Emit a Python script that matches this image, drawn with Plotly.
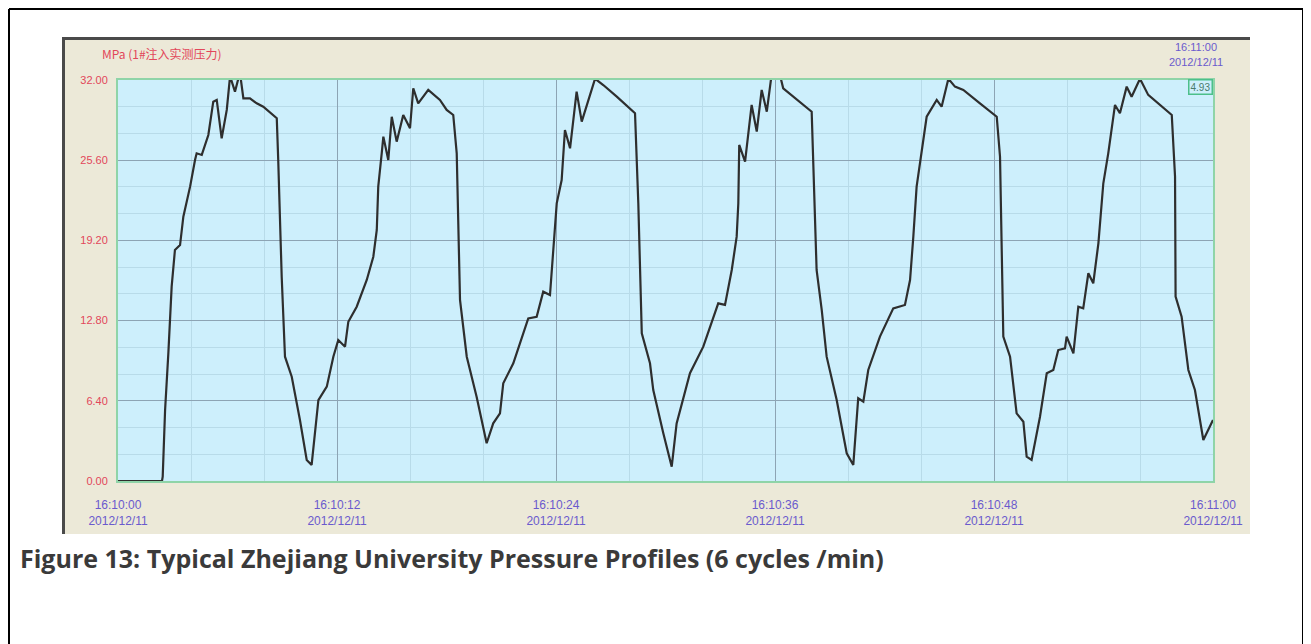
import plotly.graph_objects as go

# ---- data (seconds after 16:10:00, pressure in MPa) ----
time_s = [
    0.00, 2.41, 2.45, 2.58, 2.76, 2.94, 3.12, 3.40, 3.58, 3.95, 4.22, 4.31, 4.59, 4.95,
    5.22, 5.41, 5.68, 5.96, 6.14, 6.41, 6.68, 6.87, 7.23, 7.60, 7.96, 8.70, 8.78, 8.88,
    8.97, 9.15, 9.52, 9.97, 10.34, 10.61, 10.98, 11.44, 11.80, 12.07, 12.44, 12.62,
    13.08, 13.63, 13.99, 14.18, 14.26, 14.45, 14.54, 14.81, 15.00, 15.27, 15.63, 16.00,
    16.18, 16.45, 17.00, 17.64, 18.01, 18.37, 18.56, 18.74, 19.11, 19.65, 20.20, 20.56,
    20.93, 21.11, 21.66, 22.48, 22.94, 23.30, 23.67, 24.04, 24.31, 24.49, 24.77, 25.13,
    25.41, 26.14, 26.59, 27.33, 28.33, 28.51, 28.70, 29.15, 29.33, 29.88, 30.34, 30.61,
    31.34, 32.07, 32.53, 32.89, 33.26, 33.63, 33.90, 33.99, 34.04, 34.36, 34.72, 35.00,
    35.27, 35.55, 35.82, 36.05, 36.27, 36.45, 38.01, 38.10, 38.28, 38.56, 38.83, 39.38,
    39.93, 40.29, 40.56, 40.84, 41.11, 41.75, 42.48, 43.12, 43.40, 43.58, 43.76, 44.31,
    44.86, 45.13, 45.50, 45.86, 46.32, 47.23, 48.15, 48.33, 48.51, 48.88, 49.24, 49.61,
    49.79, 50.06, 50.52, 50.89, 51.25, 51.52, 51.89, 51.98, 52.35, 52.62, 52.89, 53.17,
    53.44, 53.72, 53.99, 54.26, 54.63, 54.90, 55.27, 55.54, 56.00, 56.45, 57.74, 57.92,
    57.95, 58.28, 58.65, 59.01, 59.47, 60.00,
]
pressure_mpa = [
    0.00, 0.00, 0.34, 5.67, 10.22, 15.51, 18.44, 18.83, 21.09, 23.49, 25.62, 26.15, 26.02, 27.61,
    30.27, 30.41, 27.35, 29.61, 32.30, 31.07, 32.60, 30.54, 30.54, 30.14, 29.87, 28.95, 25.62, 20.30,
    16.30, 9.92, 8.32, 4.87, 1.68, 1.28, 6.46, 7.53, 9.92, 11.25, 10.72, 12.71,
    13.91, 16.04, 17.90, 20.03, 23.49, 26.15, 27.48, 25.62, 29.07, 27.08, 29.21, 28.15,
    31.34, 30.14, 31.21, 30.41, 29.61, 29.21, 26.15, 14.45, 9.92, 6.73, 3.01, 4.60,
    5.40, 7.80, 9.39, 12.98, 13.11, 15.11, 14.84, 22.16, 24.02, 28.01, 26.55, 31.07,
    28.68, 32.10, 31.60, 30.67, 29.35, 22.16, 11.79, 9.39, 7.26, 3.81, 1.14, 4.60,
    8.60, 10.72, 12.59, 14.18, 14.05, 16.84, 19.50, 22.16, 26.82, 25.48, 30.01, 27.88,
    31.21, 29.47, 32.50, 33.50, 32.40, 31.34, 29.47, 24.82, 16.84, 13.65, 9.92, 6.46,
    2.21, 1.28, 6.60, 6.33, 8.86, 11.52, 13.78, 14.05, 16.04, 19.50, 23.49, 29.07,
    30.41, 29.87, 32.10, 31.47, 31.21, 30.14, 29.07, 25.88, 11.52, 9.92, 5.40, 4.73,
    1.94, 1.68, 5.13, 8.60, 8.86, 10.45, 10.59, 11.52, 10.19, 13.91, 13.78, 16.58,
    15.78, 18.97, 23.76, 26.15, 30.01, 29.35, 31.47, 30.67, 32.10, 30.81, 29.21, 24.29,
    14.71, 13.11, 8.86, 7.26, 3.27, 4.87,
]

y_tick_vals = [0.0, 6.4, 12.8, 19.2, 25.6, 32.0]
y_tick_text = ["0.00", "6.40", "12.80", "19.20", "25.60", "32.00"]
x_tick_vals = [0, 12, 24, 36, 48, 60]
x_tick_times = ["16:10:00", "16:10:12", "16:10:24", "16:10:36", "16:10:48", "16:11:00"]
x_tick_date = "2012/12/11"
unit_label = "MPa (1#注入实测压力)"
cursor_time = "16:11:00"
cursor_value = "4.93"
caption = "Figure 13: Typical Zhejiang University Pressure Profiles (6 cycles /min)"

# ---- layout geometry (page pixels; the page body adds an 8px offset) ----
OFF = 8
W, H = 1311 - OFF, 644 - OFF
L, R, T, B = 118, 1213, 80, 481          # plot area in page pixels
pw, ph = R - L, B - T


def px(x):
    return (x - L) / pw


def py(y):
    return (B - y) / ph


fig = go.Figure()
fig.add_trace(go.Scatter(
    x=time_s, y=pressure_mpa, mode="lines",
    line=dict(color="#2e2e2e", width=2.2), hoverinfo="skip", showlegend=False,
))

shapes = [
    # beige instrument panel
    dict(type="rect", xref="paper", yref="paper", x0=px(62), x1=px(1250), y0=py(534), y1=py(37),
         fillcolor="#ECE9D8", line=dict(width=0), layer="below"),
    # plot area
    dict(type="rect", xref="paper", yref="paper", x0=0, x1=1, y0=0, y1=1,
         fillcolor="#CDEFFC", line=dict(width=0), layer="below"),
    # dark panel edges
    dict(type="line", xref="paper", yref="paper", x0=px(63.5), x1=px(63.5), y0=py(534), y1=py(37),
         line=dict(color="#4a4a4a", width=3)),
    dict(type="line", xref="paper", yref="paper", x0=px(62), x1=px(1250), y0=py(38.5), y1=py(38.5),
         line=dict(color="#4a4a4a", width=3)),
    # page border
    dict(type="line", xref="paper", yref="paper", x0=px(9), x1=px(9), y0=py(660), y1=py(9),
         line=dict(color="#000000", width=2)),
    dict(type="line", xref="paper", yref="paper", x0=px(9), x1=px(1303), y0=py(9), y1=py(9),
         line=dict(color="#000000", width=2)),
    dict(type="line", xref="paper", yref="paper", x0=px(1303), x1=px(1303), y0=py(660), y1=py(9),
         line=dict(color="#000000", width=2)),
]

x_tick_text = [f"{t}<br>{x_tick_date}" for t in x_tick_times]

annotations = [
    dict(xref="paper", yref="paper", x=px(100), y=py(53), xanchor="left", yanchor="middle",
         text=unit_label, showarrow=False,
         font=dict(family="Noto Sans CJK SC", size=12, color="#e2475a")),
    dict(xref="paper", yref="paper", x=px(1196), y=py(47), xanchor="center", yanchor="middle",
         text=cursor_time, showarrow=False,
         font=dict(family="Liberation Sans", size=11, color="#6a5acd")),
    dict(xref="paper", yref="paper", x=px(1196), y=py(62), xanchor="center", yanchor="middle",
         text=x_tick_date, showarrow=False,
         font=dict(family="Liberation Sans", size=11, color="#6a5acd")),
    dict(xref="paper", yref="paper", x=px(1200), y=py(87), xanchor="center", yanchor="middle",
         text=cursor_value, showarrow=False, bgcolor="#CDEFFC", bordercolor="#4cbf8a",
         borderwidth=1.5, borderpad=1,
         font=dict(family="Liberation Sans", size=10, color="#4a7a6a")),
    dict(xref="paper", yref="paper", x=px(18), y=py(558), xanchor="left", yanchor="middle",
         text=f"<b>{caption}</b>", showarrow=False,
         font=dict(family="Open Sans", size=25, color="#3a3a3a")),
]

fig.update_layout(
    width=W, height=H, autosize=False,
    margin=dict(l=L - OFF, r=W - (R - OFF), t=T - OFF, b=H - (B - OFF), pad=0),
    paper_bgcolor="#ffffff", plot_bgcolor="rgba(0,0,0,0)",
    shapes=shapes, annotations=annotations, showlegend=False,
)
fig.update_xaxes(
    range=[0, 60], tickmode="array", tickvals=x_tick_vals, ticktext=x_tick_text,
    tickfont=dict(family="Liberation Sans", size=12, color="#6a5acd"),
    showgrid=True, gridcolor="#8da4b4", gridwidth=1.2,
    minor=dict(dtick=4, showgrid=True, gridcolor="#b8dbe9", gridwidth=1),
    showline=True, linecolor="#8fd4a8", linewidth=2, mirror=True,
    ticks="", ticklabelstandoff=12, zeroline=False, fixedrange=True,
)
fig.update_yaxes(
    range=[0, 32], tickmode="array", tickvals=y_tick_vals, ticktext=y_tick_text,
    tickfont=dict(family="Liberation Sans", size=11, color="#e2475a"),
    showgrid=True, gridcolor="#8da4b4", gridwidth=1.2,
    minor=dict(tick0=0, dtick=6.4 / 3, showgrid=True, gridcolor="#b8dbe9", gridwidth=1),
    showline=True, linecolor="#8fd4a8", linewidth=2, mirror=True,
    ticks="", ticklabelstandoff=6, zeroline=False, fixedrange=True,
)

fig.write_html("out.html")
